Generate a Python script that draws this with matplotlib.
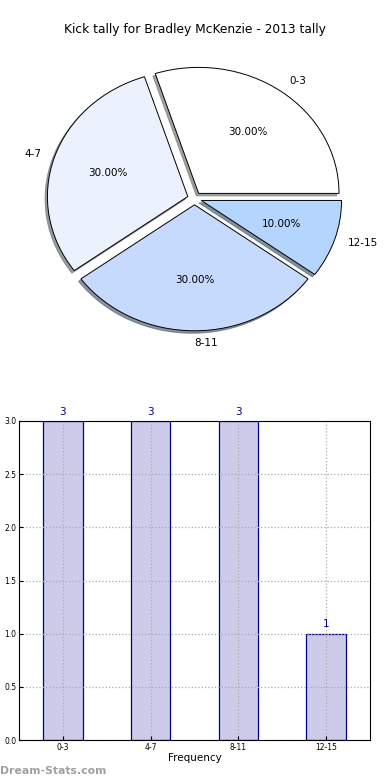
import matplotlib
matplotlib.use("Agg")
import matplotlib.pyplot as plt

categories = ["0-3", "4-7", "8-11", "12-15"]
counts = [3, 3, 3, 1]
pie_colors = ["#ffffff", "#ebf2fe", "#c6dafe", "#b3d5fe"]
title = "Kick tally for Bradley McKenzie - 2013 tally"
xlabel = "Frequency"
yticks = [0.0, 0.5, 1.0, 1.5, 2.0, 2.5, 3.0]

W, H = 390, 780
fig = plt.figure(figsize=(W / 100, H / 100), dpi=100)

# Pie axes
axp = fig.add_axes([19 / W, (H - 356) / H, 351 / W, 315 / H])
wedges, texts, autotexts = axp.pie(
    counts, labels=categories, colors=pie_colors, autopct="%1.2f%%",
    explode=[0.05] * len(counts),
    shadow=dict(ox=-0.012, oy=-0.014, shade=0.5, alpha=0.75),
    startangle=0,
    wedgeprops=dict(edgecolor="black", linewidth=0.7),
    textprops=dict(fontsize=7.5),
)
axp.set_aspect("auto")
axp.set_xlim(-1.25, 1.25)
axp.set_ylim(-1.25, 1.25)
fig.text(0.5, (H - 30) / H, title, ha="center", va="center", fontsize=8.8)

# Bar axes
axb = fig.add_axes([19 / W, (H - 740) / H, 351 / W, 319 / H])
x = list(range(len(categories)))
bars = axb.bar(x, counts, width=0.45, color="#ccccea", edgecolor="#00008b", linewidth=0.9)
axb.set_xlim(-0.5, 3.5)
axb.set_ylim(0, 3)
axb.set_xticks(x)
axb.set_xticklabels(categories)
axb.set_yticks(yticks)
axb.set_yticklabels([f"{v:.1f}" for v in yticks])
axb.tick_params(direction="in", labelsize=5.5, length=3, pad=2)
axb.grid(True, linestyle=":", color="#aaaaaa", linewidth=0.9)
axb.set_axisbelow(False)
for s in axb.spines.values():
    s.set_zorder(3)
axb.set_xlabel(xlabel, fontsize=7.5, labelpad=1)
for xi, c in zip(x, counts):
    axb.text(xi, c + 0.04, str(c), ha="center", va="bottom", color="#00008b", fontsize=7.5)

fig.text(0.0, (H - 771) / H, "Dream-Stats.com", ha="left", va="center",
         fontsize=7.8, color="#a0a0a0", fontweight="semibold")

fig.savefig("out.png", dpi=100)
